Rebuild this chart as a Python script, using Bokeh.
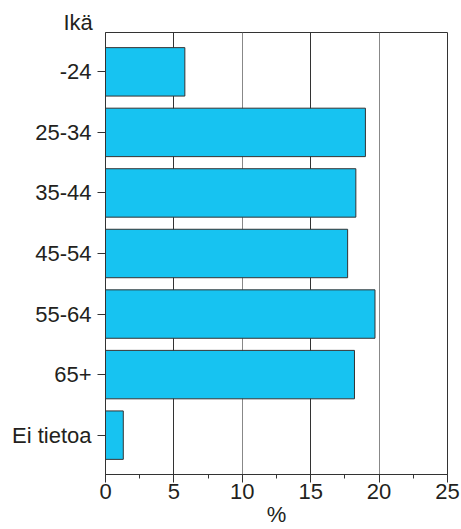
from bokeh.plotting import figure
from bokeh.models import (ColumnDataSource, FactorRange, Range1d, SingleIntervalTicker,
                          FixedTicker, Grid)
from bokeh.embed import file_html
from bokeh.resources import INLINE

categories = ["-24", "25-34", "35-44", "45-54", "55-64", "65+", "Ei tietoa"]
values = [5.8, 19.0, 18.3, 17.7, 19.7, 18.2, 1.3]
x_ticks = [0, 5, 10, 15, 20, 25]

FONT = "Liberation Sans"
TXT = "#231F20"

src = ColumnDataSource(dict(cat=categories, val=values))

p = figure(width=461, height=529, output_backend="svg", toolbar_location=None,
           y_range=FactorRange(factors=list(reversed(categories)),
                               range_padding=0.15, range_padding_units="absolute"),
           x_range=Range1d(0, 25),
           min_border_left=105, min_border_right=14, min_border_top=32, min_border_bottom=55)

p.background_fill_color = "white"
p.border_fill_color = "white"
p.outline_line_color = "#333333"
p.outline_line_width = 1

p.title.text = "Ikä"
p.title.align = "left"
p.title.offset = -42
p.title.standoff = -5
p.title.text_font = FONT
p.title.text_font_size = "22px"
p.title.text_font_style = "normal"
p.title.text_color = TXT

p.xgrid.visible = False
p.ygrid.visible = False
p.add_layout(Grid(dimension=0, ticker=FixedTicker(ticks=[5, 15]),
                  grid_line_color="#333333", grid_line_width=1))
p.add_layout(Grid(dimension=0, ticker=FixedTicker(ticks=[10, 20]),
                  grid_line_color="#888888", grid_line_width=1))

p.hbar(y="cat", right="val", left=0, height=0.8, source=src,
       fill_color="#17C3F1", line_color="#333333", line_width=1)

xa = p.xaxis[0]
xa.ticker = SingleIntervalTicker(interval=5, num_minor_ticks=2)
xa.major_tick_out = 8
xa.major_tick_in = 0
xa.minor_tick_out = 4
xa.minor_tick_in = 0
xa.major_label_standoff = 1
xa.major_label_text_font = FONT
xa.major_label_text_font_size = "22px"
xa.major_label_text_color = TXT
xa.axis_line_color = "#333333"
xa.major_tick_line_color = "#333333"
xa.minor_tick_line_color = "#333333"
xa.axis_label = "%"
xa.axis_label_standoff = 0
xa.axis_label_text_font = FONT
xa.axis_label_text_font_size = "22px"
xa.axis_label_text_font_style = "normal"
xa.axis_label_text_color = TXT

ya = p.yaxis[0]
ya.major_tick_out = 8
ya.major_tick_in = 0
ya.minor_tick_out = 0
ya.major_label_standoff = 6
ya.major_label_text_font = FONT
ya.major_label_text_font_size = "22px"
ya.major_label_text_color = TXT
ya.axis_line_color = "#333333"
ya.major_tick_line_color = "#333333"
ya.group_text_font_size = "0px"

open("out.html", "w").write(file_html(p, INLINE))
